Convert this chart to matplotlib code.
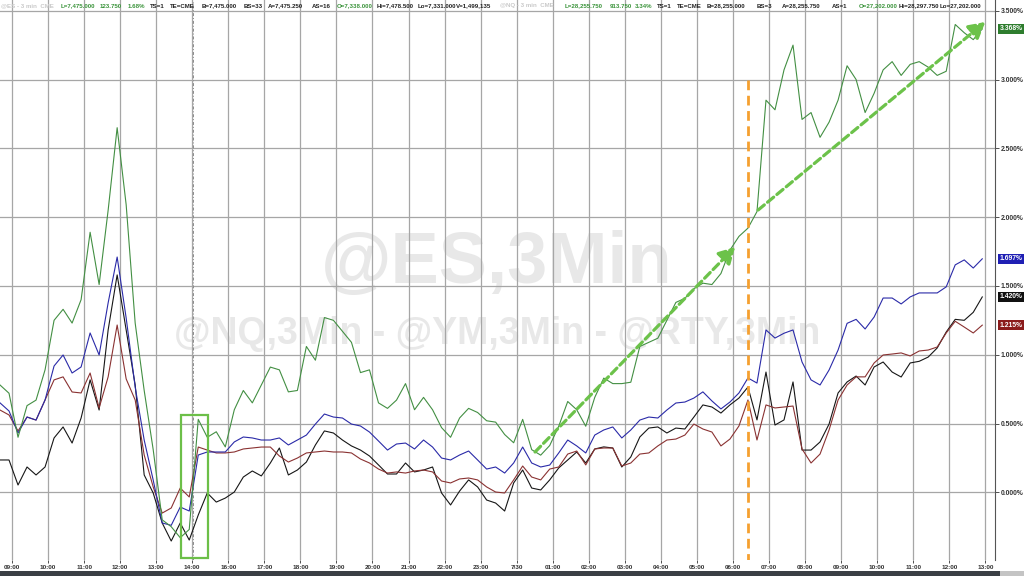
import numpy as np
import matplotlib
matplotlib.use("Agg")
import matplotlib.pyplot as plt
from matplotlib.patches import Rectangle

# ---------------- data ----------------
x_labels = ["09:00", "10:00", "11:00", "12:00", "13:00", "14:00", "16:00", "17:00",
            "18:00", "19:00", "20:00", "21:00", "22:00", "23:00", "7/30", "01:00",
            "02:00", "03:00", "04:00", "05:00", "06:00", "07:00", "08:00", "09:00",
            "10:00", "11:00", "12:00", "13:00"]

# sample times (hours from first 09:00 tick), one sample every 15 minutes
t_start = -1 / 3
t_step = 0.25

nq_green = [0.78, 0.72, 0.40, 0.63, 0.67, 0.89, 1.25, 1.33, 1.23, 1.40,
            1.89, 1.51, 2.05, 2.65, 2.09, 1.23, 0.74, 0.31, -0.20, -0.25,
            -0.33, -0.27, 0.53, 0.40, 0.44, 0.33, 0.60, 0.74, 0.65, 0.78,
            0.91, 0.89, 0.73, 0.74, 1.06, 0.96, 1.27, 1.25, 1.17, 1.09,
            0.87, 0.89, 0.65, 0.61, 0.67, 0.79, 0.60, 0.69, 0.60, 0.47,
            0.40, 0.54, 0.61, 0.58, 0.52, 0.51, 0.42, 0.36, 0.53, 0.31,
            0.27, 0.34, 0.48, 0.66, 0.60, 0.48, 0.69, 0.83, 0.79, 0.79,
            0.80, 1.06, 1.09, 1.12, 1.25, 1.38, 1.41, 1.48, 1.52, 1.51,
            1.59, 1.76, 1.86, 1.92, 2.04, 2.85, 2.78, 3.07, 3.25, 2.71,
            2.76, 2.58, 2.69, 2.85, 3.10, 3.00, 2.76, 2.90, 3.07, 3.13,
            3.03, 3.11, 3.13, 3.09, 3.03, 3.06, 3.40, 3.34, 3.29, 3.368]

ym_blue = [0.650, 0.591, 0.431, 0.547, 0.525, 0.671, 0.918, 0.998, 0.867, 0.911,
           1.158, 0.998, 1.377, 1.710, 1.267, 0.765, 0.380, 0.089, -0.223, -0.240,
           -0.107, -0.136, 0.271, 0.293, 0.293, 0.293, 0.366, 0.402, 0.395, 0.380,
           0.380, 0.395, 0.344, 0.380, 0.416, 0.496, 0.569, 0.547, 0.540, 0.496,
           0.482, 0.438, 0.373, 0.307, 0.351, 0.358, 0.315, 0.380, 0.329, 0.249,
           0.235, 0.271, 0.300, 0.235, 0.169, 0.184, 0.140, 0.213, 0.329, 0.213,
           0.184, 0.198, 0.286, 0.380, 0.337, 0.286, 0.416, 0.453, 0.475, 0.395,
           0.453, 0.525, 0.547, 0.540, 0.598, 0.649, 0.656, 0.685, 0.730, 0.664,
           0.606, 0.656, 0.722, 0.831, 0.794, 1.180, 1.121, 1.156, 1.180, 0.947,
           0.817, 0.780, 0.889, 1.034, 1.228, 1.257, 1.187, 1.274, 1.412, 1.412,
           1.369, 1.420, 1.449, 1.449, 1.449, 1.493, 1.653, 1.689, 1.630, 1.697]

es_black = [0.235, 0.235, 0.053, 0.184, 0.126, 0.184, 0.395, 0.475, 0.358, 0.540,
            0.817, 0.598, 1.180, 1.580, 1.180, 0.780, 0.126, -0.005, -0.223, -0.354,
            -0.223, -0.347, -0.165, -0.005, -0.071, -0.042, 0.002, 0.111, 0.155, 0.119,
            0.213, 0.322, 0.126, 0.162, 0.220, 0.344, 0.446, 0.431, 0.380, 0.337,
            0.307, 0.264, 0.199, 0.133, 0.133, 0.213, 0.148, 0.162, 0.184, -0.005,
            -0.092, 0.009, 0.090, 0.039, -0.056, -0.078, -0.136, 0.068, 0.162, 0.031,
            0.017, 0.090, 0.177, 0.235, 0.293, 0.213, 0.315, 0.330, 0.322, 0.184,
            0.257, 0.402, 0.467, 0.475, 0.431, 0.467, 0.460, 0.547, 0.635, 0.620,
            0.576, 0.635, 0.685, 0.765, 0.526, 0.874, 0.489, 0.526, 0.802, 0.307,
            0.307, 0.366, 0.496, 0.722, 0.802, 0.845, 0.780, 0.911, 0.947, 0.874,
            0.838, 0.940, 0.952, 0.983, 1.049, 1.165, 1.257, 1.250, 1.308, 1.420]

rty_red = [0.598, 0.562, 0.446, 0.547, 0.525, 0.671, 0.817, 0.839, 0.729, 0.722,
           0.867, 0.613, 0.839, 1.216, 0.824, 0.671, 0.271, 0.039, -0.151, -0.114,
           0.031, -0.034, 0.329, 0.307, 0.286, 0.286, 0.293, 0.315, 0.322, 0.329,
           0.329, 0.264, 0.220, 0.249, 0.286, 0.293, 0.300, 0.293, 0.293, 0.286,
           0.242, 0.213, 0.169, 0.140, 0.148, 0.140, 0.155, 0.162, 0.148, 0.082,
           0.068, 0.097, 0.104, 0.090, 0.039, 0.002, -0.005, 0.090, 0.191, 0.111,
           0.090, 0.169, 0.184, 0.278, 0.300, 0.199, 0.315, 0.322, 0.322, 0.191,
           0.213, 0.278, 0.286, 0.337, 0.380, 0.387, 0.416, 0.496, 0.460, 0.438,
           0.337, 0.387, 0.482, 0.671, 0.380, 0.635, 0.613, 0.620, 0.627, 0.315,
           0.213, 0.278, 0.453, 0.671, 0.780, 0.839, 0.839, 0.940, 0.998, 1.005,
           1.013, 0.991, 1.027, 1.034, 1.056, 1.158, 1.243, 1.201, 1.158, 1.215]

y_ticks = [0.0, 0.5, 1.0, 1.5, 2.0, 2.5, 3.0, 3.5]

# annotations (time in hours, value in %)
arrow1 = ((14.51, 0.293), (20.06, 1.783))
arrow2 = ((20.70, 2.052), (27.00, 3.418))
orange_time = 20.42
orange_top = 3.0
marker_time = 5.02
box_t0, box_t1 = 4.69, 5.44
box_v0, box_v1 = -0.477, 0.562

# header strip texts: (x pixel, text, kind)
header = [
    (1, "@ES - 3 min  CME", "f"), (61, "L=7,475.000", "g"), (100, "123.750", "g"),
    (128, "1.68%", "g"), (150, "TS=1", "k"), (170, "TE=CME", "k"),
    (202, "B=7,475.000", "k"), (244, "BS=33", "k"), (268, "A=7,475.250", "k"),
    (312, "AS=16", "k"), (337, "O=7,338.000", "g"), (377, "Hi=7,478.500", "k"),
    (418, "Lo=7,331.000", "k"), (456, "V=1,499,135", "k"),
    (500, "@NQ - 3 min  CME", "f"), (565, "L=28,255.750", "g"), (610, "913.750", "g"),
    (635, "3.34%", "g"), (657, "TS=1", "k"), (677, "TE=CME", "k"),
    (707, "B=28,255.000", "k"), (757, "BS=3", "k"), (782, "A=28,255.750", "k"),
    (832, "AS=1", "k"), (859, "O=27,202.000", "g"), (899, "Hi=28,297.750", "k"),
    (940, "Lo=27,202.000", "k"),
]

# ---------------- figure ----------------
W, H = 1024, 576
fig = plt.figure(figsize=(W / 100, H / 100), dpi=100)
fig.patch.set_facecolor("white")
ax = fig.add_axes([0, 16 / H, 995 / W, 560 / H])
ax.set_xlim(-1 / 3, 27.27)
ax.set_ylim(-0.492, 3.578)

hours = t_start + t_step * np.arange(len(nq_green))

ax.set_axisbelow(True)
ax.grid(True, color="#a6a6a6", lw=0.9)
ax.set_xticks(range(len(x_labels)))
ax.set_xticklabels(x_labels)
ax.set_yticks(y_ticks)
ax.set_yticklabels([f"{v:.3f}%" for v in y_ticks])
ax.yaxis.tick_right()
for s in ["left", "top", "bottom"]:
    ax.spines[s].set_visible(False)
ax.spines["right"].set_color("#555555")
ax.spines["right"].set_linewidth(0.8)
ax.tick_params(axis="x", length=2, pad=1.5, labelsize=4.6, colors="#333333", width=0.6)
ax.tick_params(axis="y", length=3, pad=1, labelsize=4.9, colors="#333333", width=0.6)
for lab in ax.get_xticklabels() + ax.get_yticklabels():
    lab.set_fontfamily("Liberation Sans")
    lab.set_fontweight("bold")

# watermark
ax.text(0.4995, 0.4946, "@ES,3Min", transform=ax.transAxes, ha="center", va="baseline",
        fontsize=52, fontweight="bold", family="Liberation Sans", color="#e8e8e8", zorder=0.1)
ax.text(0.500, 0.386, "@NQ,3Min - @YM,3Min - @RTY,3Min", transform=ax.transAxes,
        ha="center", va="baseline", fontsize=27, fontweight="bold",
        family="Liberation Sans", color="#e8e8e8", zorder=0.1)

# 14:00 marker line
ax.axvline(marker_time, color="#8c8c8c", lw=0.7, ls=(0, (3, 2, 1, 2)), zorder=1)

# series
ax.plot(hours, es_black, color="#161616", lw=0.8, zorder=3)
ax.plot(hours, rty_red, color="#8a3232", lw=0.8, zorder=3)
ax.plot(hours, ym_blue, color="#2a2aa8", lw=0.8, zorder=3)
ax.plot(hours, nq_green, color="#438f43", lw=0.8, zorder=3)

# green box
ax.add_patch(Rectangle((box_t0, box_v0), box_t1 - box_t0, box_v1 - box_v0,
                       fill=False, ec="#6cbf48", lw=1.6, zorder=4))

# orange dashed vertical
ax.plot([orange_time, orange_time], [orange_top, -0.492], color="#f5a030", lw=2.0,
        dashes=(3.5, 2.0), zorder=4, solid_capstyle="butt")

# green dashed arrows
for (p0, p1) in (arrow1, arrow2):
    ax.annotate("", xy=p1, xytext=p0,
                arrowprops=dict(arrowstyle="-|>,head_length=0.8,head_width=0.45",
                                lw=2.3, ls=(0, (2.5, 1.3)), color="#6cc24a",
                                mutation_scale=12, shrinkA=0, shrinkB=0),
                zorder=5)

# last value tags
for val, col in ((nq_green[-1], "#2e7d2e"), (ym_blue[-1], "#1f1fb4"),
                 (es_black[-1], "#111111"), (rty_red[-1], "#8b1c1c")):
    ax.text(1.0045, val, f"{val:.3f}%", transform=ax.get_yaxis_transform(),
            ha="left", va="center", fontsize=4.9, fontweight="bold",
            family="Liberation Sans", color="white", clip_on=False, zorder=6,
            bbox=dict(boxstyle="square,pad=0.18", fc=col, ec="none"))

# header strip
hcol = {"f": "#c9c9c9", "g": "#3a933a", "k": "#222222"}
for px, txt, kind in header:
    fig.text(px / W, 1 - 6 / H, txt, ha="left", va="center", fontsize=4.4,
             fontweight="bold", family="Liberation Sans", color=hcol[kind])

# bottom dark bar
fig.patches.append(Rectangle((0, 0), 1000 / W, 5 / H, transform=fig.transFigure,
                             fc="#3b3f45", ec="none"))
fig.patches.append(Rectangle((1000 / W, 0), 24 / W, 5 / H, transform=fig.transFigure,
                             fc="#c4c4c4", ec="none"))

fig.savefig("out.png", dpi=100, facecolor="white")
